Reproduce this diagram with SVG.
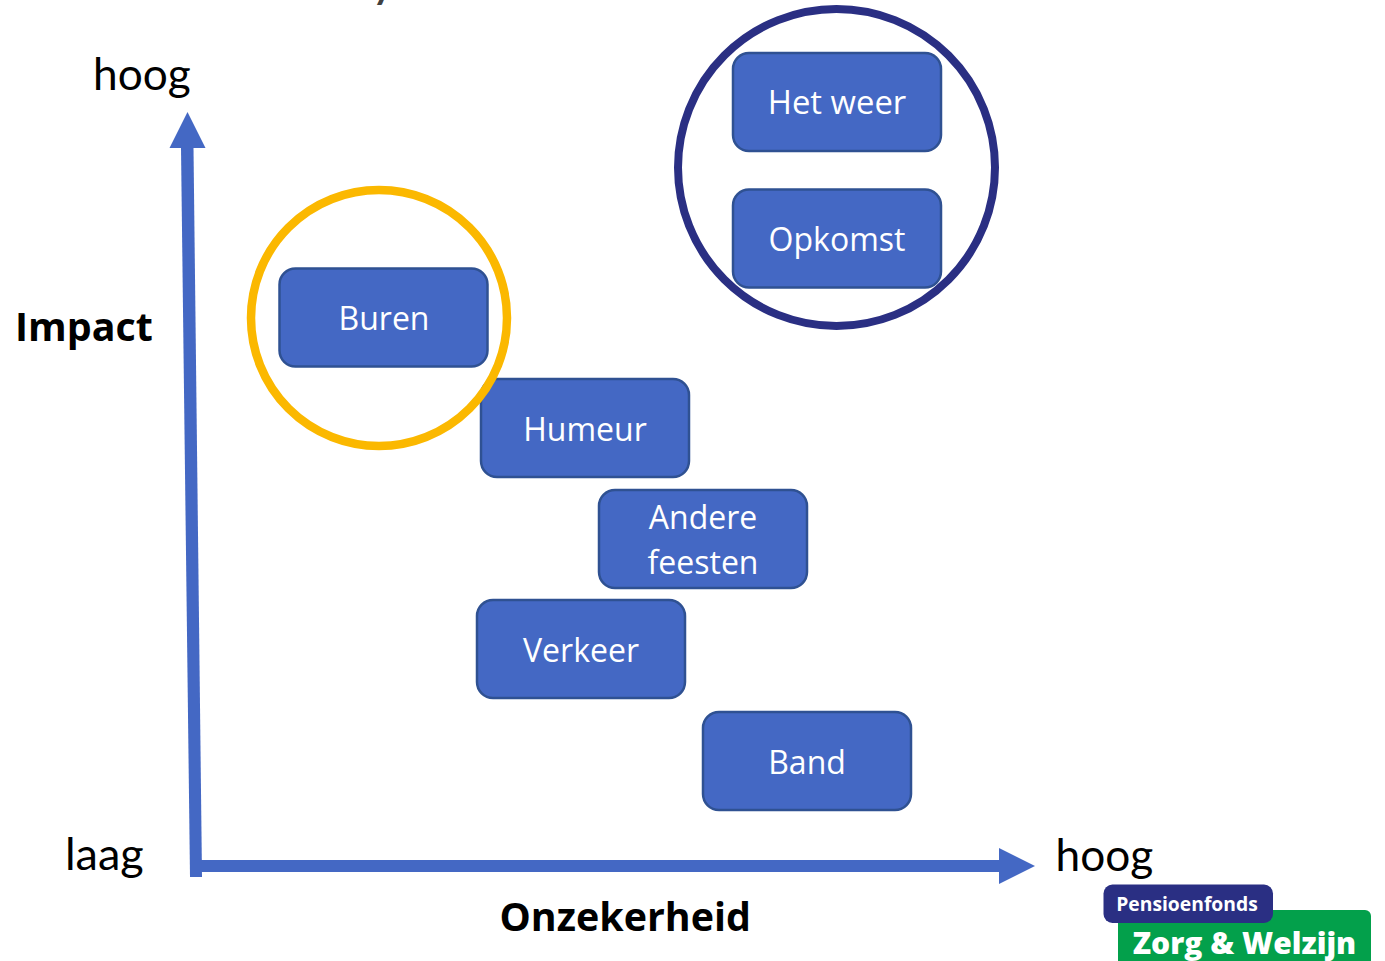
<svg xmlns="http://www.w3.org/2000/svg" width="1385" height="961" viewBox="0 0 1385 961">
<style>
.n{fill:#4468c4;stroke:#2f5192;stroke-width:2.500}
.t{font-family:"Open Sans","Noto Sans",sans-serif;font-size:32px;fill:#fff;text-anchor:middle}
.l{font-family:Lato,"Open Sans",sans-serif;font-size:45px;fill:#000}
.h{font-size:44.200px}
.b{font-family:"Open Sans","Noto Sans",sans-serif;font-weight:700;font-size:39.400px;fill:#000}
.a{fill:#4468c4}
</style>
<rect width="1385" height="961" fill="#fff"/>
<text x="371" y="-3" font-family="Lato,sans-serif" font-size="48" font-weight="500" fill="#404040">y</text>
<g id="connectors">
<polygon class="a" points="181,148 193.500,148 202,877 190,877"/>
<polygon class="a" points="187.500,112 205.500,148 169.500,148"/>
<rect class="a" x="201" y="860" width="800" height="12"/>
<polygon class="a" points="999,848 1035,866 999,884"/>
</g>
<g id="node-humeur"><rect class="n" x="481" y="379" width="208" height="98" rx="16"/><text class="t" x="585" y="441">Humeur</text></g>
<g id="circle-yellow"><circle cx="379" cy="318" r="128" fill="none" stroke="#fbb800" stroke-width="8.500"/></g>
<g id="node-buren"><rect class="n" x="279.500" y="268.500" width="208" height="98" rx="16"/><text class="t" x="384" y="330">Buren</text></g>
<g id="node-hetweer"><rect class="n" x="733" y="53" width="208" height="98" rx="16"/><text class="t" x="837" y="114" style="font-size:32.800px">Het weer</text></g>
<g id="node-opkomst"><rect class="n" x="733" y="189.500" width="208" height="98" rx="16"/><text class="t" x="837" y="251">Opkomst</text></g>
<g id="circle-navy"><circle cx="836.500" cy="167.500" r="158.500" fill="none" stroke="#2a2f83" stroke-width="8"/></g>
<g id="node-andere"><rect class="n" x="599" y="490" width="208" height="98" rx="16"/><text class="t" x="703" y="529">Andere</text><text class="t" x="703" y="574">feesten</text></g>
<g id="node-verkeer"><rect class="n" x="477" y="600" width="208" height="98" rx="16"/><text class="t" x="581" y="662">Verkeer</text></g>
<g id="node-band"><rect class="n" x="703" y="712" width="208" height="98" rx="16"/><text class="t" x="807" y="774">Band</text></g>
<text class="l h" x="93" y="90">hoog</text>
<text class="l" x="65" y="870">laag</text>
<text class="l h" x="1055.500" y="871">hoog</text>
<text class="b" x="15" y="341">Impact</text>
<text class="b" x="499.500" y="931">Onzekerheid</text>
<g id="logo">
<rect x="1118" y="910" width="253" height="70" rx="6" fill="#03a04b"/>
<rect x="1103.500" y="884.500" width="169.500" height="38.500" rx="9" fill="#2a2f83"/>
<text x="1187" y="911" font-family="'Open Sans',sans-serif" font-weight="700" font-size="19.300" fill="#fff" text-anchor="middle">Pensioenfonds</text>
<text x="1244.500" y="954" font-family="'Open Sans',sans-serif" font-weight="800" font-size="30" fill="#fff" text-anchor="middle">Zorg &amp; Welzijn</text>
</g>
</svg>
